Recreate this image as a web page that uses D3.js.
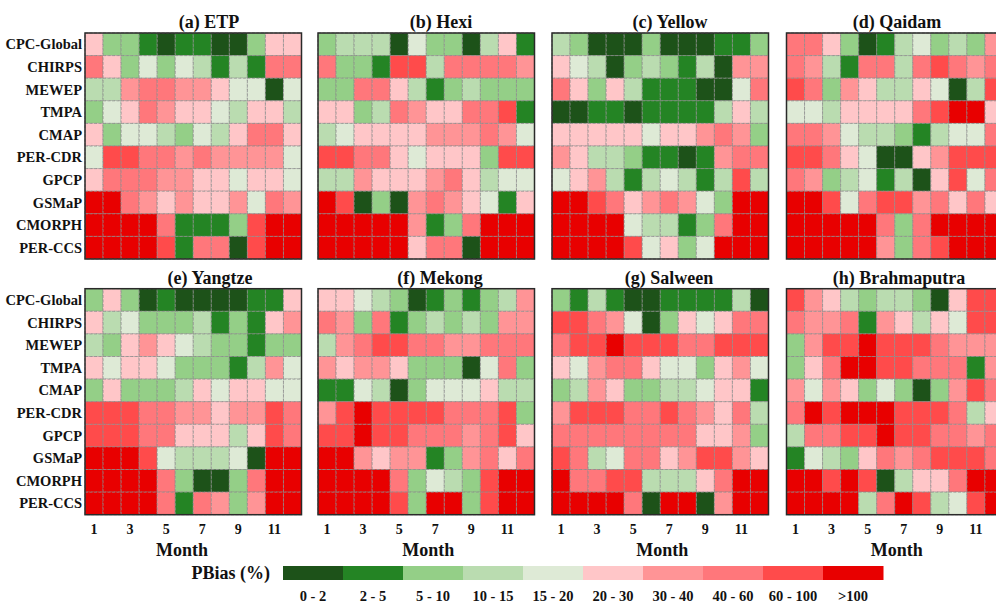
<!DOCTYPE html>
<html>
<head>
<meta charset="utf-8">
<script src="https://cdn.jsdelivr.net/npm/d3@7"></script>
<style>
  html, body { margin: 0; padding: 0; background: #fff; overflow: hidden; }
  svg { display: block; font-family: "Liberation Serif", "Times New Roman", serif; font-weight: bold; }
</style>
</head>
<body>
<svg id="chart" width="996" height="603"></svg>
<script>
// Precipitation products (rows) and months (columns)
const products = ["CPC-Global", "CHIRPS", "MEWEP", "TMPA", "CMAP", "PER-CDR", "GPCP", "GSMaP", "CMORPH", "PER-CCS"];
const months = [1, 2, 3, 4, 5, 6, 7, 8, 9, 10, 11, 12];
const monthTicks = [1, 3, 5, 7, 9, 11];

// PBias classes and their colours
const pbiasClasses = ["0 - 2", "2 - 5", "5 - 10", "10 - 15", "15 - 20", "20 - 30", "30 - 40", "40 - 60", "60 - 100", ">100"];
const classColors = ["#1d5219", "#248424", "#94cf87", "#badcb0", "#deead6", "#ffc6c8", "#ff9496", "#ff777b", "#ff4b4b", "#e80000"];

// PBias class index per product (row) and month (column) for each basin
const etp = [
  [5, 2, 2, 1, 0, 1, 1, 0, 0, 2, 5, 5],
  [7, 5, 2, 4, 2, 4, 3, 1, 3, 1, 7, 7],
  [3, 3, 6, 7, 7, 6, 6, 5, 4, 4, 0, 4],
  [2, 4, 5, 7, 6, 5, 5, 4, 3, 5, 5, 3],
  [5, 2, 4, 4, 3, 2, 4, 3, 5, 7, 7, 5],
  [4, 8, 8, 7, 7, 6, 7, 6, 6, 6, 6, 4],
  [5, 7, 7, 7, 6, 6, 5, 5, 4, 5, 5, 4],
  [9, 9, 7, 6, 5, 6, 5, 5, 6, 4, 7, 6],
  [9, 9, 9, 9, 7, 1, 1, 1, 2, 8, 9, 9],
  [9, 9, 9, 9, 8, 1, 7, 7, 0, 8, 9, 9]
];
const hexi = [
  [2, 3, 3, 3, 0, 4, 2, 2, 0, 3, 5, 1],
  [7, 2, 2, 1, 8, 8, 3, 7, 7, 7, 7, 6],
  [2, 2, 7, 7, 5, 3, 1, 2, 3, 2, 2, 2],
  [5, 5, 2, 3, 7, 6, 5, 5, 7, 7, 8, 1],
  [3, 4, 5, 5, 5, 5, 6, 6, 6, 7, 6, 4],
  [8, 8, 7, 7, 5, 4, 5, 5, 5, 2, 8, 8],
  [3, 3, 6, 5, 5, 5, 6, 7, 5, 3, 4, 4],
  [9, 8, 0, 2, 0, 6, 7, 6, 5, 4, 1, 5],
  [9, 9, 9, 9, 9, 6, 1, 2, 7, 9, 9, 9],
  [9, 9, 9, 9, 9, 5, 7, 7, 0, 9, 9, 9]
];
const yellow = [
  [3, 2, 0, 0, 0, 2, 0, 0, 0, 1, 1, 2],
  [5, 4, 3, 0, 2, 3, 2, 1, 3, 0, 6, 6],
  [7, 5, 2, 5, 3, 1, 1, 1, 0, 0, 4, 7],
  [0, 0, 1, 1, 0, 1, 1, 1, 1, 3, 5, 3],
  [5, 5, 5, 5, 5, 4, 5, 5, 6, 7, 6, 2],
  [6, 5, 3, 3, 2, 1, 1, 0, 1, 6, 7, 7],
  [4, 5, 6, 3, 1, 3, 4, 3, 1, 3, 8, 3],
  [9, 9, 8, 7, 5, 6, 7, 6, 4, 2, 9, 9],
  [9, 9, 9, 9, 4, 3, 3, 1, 2, 7, 9, 9],
  [9, 9, 9, 9, 8, 4, 5, 2, 4, 9, 9, 9]
];
const qaidam = [
  [7, 7, 5, 2, 0, 1, 3, 4, 2, 3, 2, 6],
  [7, 6, 3, 1, 7, 7, 3, 7, 8, 7, 6, 7],
  [8, 7, 2, 6, 5, 3, 3, 5, 4, 0, 3, 8],
  [4, 4, 3, 5, 5, 5, 5, 7, 8, 9, 9, 5],
  [7, 7, 6, 4, 3, 3, 2, 1, 3, 4, 4, 7],
  [8, 8, 7, 5, 4, 0, 0, 5, 6, 8, 8, 8],
  [7, 6, 2, 3, 4, 1, 3, 0, 5, 8, 4, 7],
  [9, 9, 8, 4, 7, 8, 8, 6, 7, 5, 7, 5],
  [9, 9, 9, 9, 9, 7, 2, 7, 9, 9, 9, 9],
  [9, 9, 9, 9, 9, 6, 2, 7, 8, 9, 9, 9]
];
const yangtze = [
  [2, 5, 2, 0, 1, 0, 0, 0, 0, 1, 1, 5],
  [5, 3, 4, 2, 2, 2, 3, 1, 2, 1, 5, 6],
  [3, 2, 5, 6, 5, 4, 3, 2, 2, 1, 2, 2],
  [5, 4, 5, 5, 4, 2, 2, 2, 1, 3, 6, 4],
  [2, 5, 2, 2, 2, 3, 5, 4, 5, 5, 4, 4],
  [8, 8, 8, 7, 7, 6, 6, 5, 6, 6, 8, 7],
  [8, 8, 8, 7, 7, 5, 5, 5, 3, 5, 8, 7],
  [9, 9, 9, 8, 4, 3, 3, 3, 4, 0, 9, 9],
  [9, 9, 9, 9, 7, 2, 0, 0, 2, 7, 9, 9],
  [9, 9, 9, 9, 7, 1, 7, 6, 2, 6, 9, 9]
];
const mekong = [
  [5, 5, 4, 3, 2, 0, 1, 2, 1, 2, 3, 6],
  [7, 6, 2, 7, 1, 2, 3, 2, 3, 2, 6, 6],
  [3, 6, 7, 8, 8, 7, 7, 6, 6, 7, 7, 7],
  [6, 5, 6, 6, 5, 2, 2, 2, 0, 4, 7, 2],
  [1, 1, 4, 3, 0, 2, 4, 4, 4, 5, 3, 3],
  [6, 8, 9, 8, 8, 8, 8, 7, 7, 7, 8, 2],
  [8, 8, 9, 8, 8, 7, 7, 7, 6, 7, 8, 5],
  [9, 9, 6, 5, 6, 6, 1, 2, 6, 7, 5, 7],
  [9, 9, 9, 9, 7, 2, 4, 3, 2, 8, 9, 9],
  [9, 9, 9, 9, 8, 2, 9, 9, 2, 8, 9, 9]
];
const salween = [
  [2, 1, 3, 1, 0, 0, 1, 1, 1, 1, 3, 0],
  [8, 8, 7, 6, 4, 0, 2, 5, 4, 5, 7, 7],
  [7, 8, 8, 9, 8, 8, 8, 7, 7, 8, 8, 8],
  [5, 4, 6, 7, 7, 5, 4, 4, 2, 5, 6, 4],
  [2, 3, 6, 5, 2, 2, 3, 3, 4, 5, 5, 1],
  [6, 8, 8, 8, 7, 7, 8, 7, 6, 5, 7, 3],
  [7, 7, 7, 7, 7, 7, 7, 7, 5, 5, 6, 2],
  [8, 7, 3, 4, 7, 7, 5, 6, 8, 8, 6, 5],
  [9, 7, 7, 8, 8, 3, 3, 3, 5, 7, 9, 9],
  [9, 9, 9, 9, 7, 0, 9, 9, 0, 6, 9, 9]
];
const brahmaputra = [
  [8, 6, 5, 3, 2, 3, 3, 2, 0, 5, 8, 8],
  [7, 6, 6, 7, 1, 6, 5, 3, 5, 4, 8, 8],
  [2, 6, 8, 8, 9, 8, 8, 8, 7, 6, 6, 6],
  [2, 5, 7, 9, 9, 8, 8, 7, 7, 7, 1, 6],
  [6, 4, 6, 5, 2, 4, 2, 0, 2, 6, 8, 7],
  [7, 9, 8, 9, 9, 9, 8, 8, 8, 7, 3, 5],
  [3, 7, 7, 8, 8, 9, 8, 8, 7, 7, 6, 7],
  [1, 4, 3, 2, 5, 7, 6, 7, 8, 8, 8, 7],
  [9, 9, 8, 9, 8, 0, 3, 5, 5, 7, 9, 9],
  [9, 9, 9, 9, 3, 7, 9, 8, 3, 4, 8, 9]
];

const panelTitles = ["(a) ETP", "(b) Hexi", "(c) Yellow", "(d) Qaidam", "(e) Yangtze", "(f) Mekong", "(g) Salween", "(h) Brahmaputra"];
const panelData = [etp, hexi, yellow, qaidam, yangtze, mekong, salween, brahmaputra];

// Layout
const panelW = 216.5, panelH = 226;
const colX = [85, 318, 552, 786.5];
const rowY = [33, 288.7];
const titleX = [209, 441, 670, 897, 210, 440, 669, 899];

const svg = d3.select("#chart");
const color = d3.scaleOrdinal().domain(d3.range(pbiasClasses.length)).range(classColors);

panelData.forEach((data, p) => {
  const col = p % 4, row = Math.floor(p / 4);
  const x0 = colX[col], y0 = rowY[row];
  const x = d3.scaleBand().domain(months).range([0, panelW]);
  const y = d3.scaleBand().domain(products).range([0, panelH]);

  const g = svg.append("g").attr("transform", `translate(${x0},${y0})`);

  const cells = [];
  data.forEach((r, i) => r.forEach((v, j) => cells.push({ product: products[i], month: months[j], cls: v })));

  g.selectAll("rect.cell").data(cells).join("rect")
    .attr("class", "cell")
    .attr("x", d => x(d.month))
    .attr("y", d => y(d.product))
    .attr("width", x.bandwidth())
    .attr("height", y.bandwidth())
    .attr("fill", d => color(d.cls))
    .attr("stroke", "#8a8a8a")
    .attr("stroke-width", 0.8)
    .attr("stroke-dasharray", "3,1.5");

  g.append("rect")
    .attr("width", panelW).attr("height", panelH)
    .attr("fill", "none").attr("stroke", "#2a2a2a").attr("stroke-width", 1.5);

  // Product labels on the left-hand column only
  if (col === 0) {
    g.selectAll("text.rowlab").data(products).join("text")
      .attr("class", "rowlab")
      .attr("x", -3)
      .attr("y", d => y(d) + y.bandwidth() / 2)
      .attr("dy", "0.35em")
      .attr("text-anchor", "end")
      .attr("font-size", 14.5)
      .attr("fill", "#111")
      .text(d => d);
  }

  // Panel title
  svg.append("text")
    .attr("x", titleX[p])
    .attr("y", y0 - 5)
    .attr("text-anchor", "middle")
    .attr("font-size", 18)
    .attr("fill", "#111")
    .text(panelTitles[p]);

  // Month axis on the lower row only
  if (row === 1) {
    const axis = d3.axisBottom(x).tickValues(monthTicks).tickSize(0).tickPadding(9);
    const ax = g.append("g").attr("transform", `translate(0,${panelH})`).call(axis);
    ax.select(".domain").remove();
    ax.selectAll("text")
      .attr("font-size", 14)
      .attr("font-family", "Liberation Serif, serif")
      .attr("font-weight", "bold")
      .attr("fill", "#111");
    const monthX = col === 0 ? 97 : panelW / 2 + 2;
    g.append("text")
      .attr("x", monthX)
      .attr("y", panelH + 41)
      .attr("text-anchor", "middle")
      .attr("font-size", 18)
      .attr("fill", "#111")
      .text("Month");
  }
});

// Legend
const legX = 283, legY = 566, segW = 60, segH = 14;
const lx = d3.scaleBand().domain(pbiasClasses).range([legX, legX + segW * pbiasClasses.length]);
const leg = svg.append("g");
leg.selectAll("rect").data(pbiasClasses).join("rect")
  .attr("x", d => lx(d))
  .attr("y", legY)
  .attr("width", lx.bandwidth() + 0.5)
  .attr("height", segH)
  .attr("fill", (d, i) => classColors[i]);
leg.selectAll("text.lab").data(pbiasClasses).join("text")
  .attr("class", "lab")
  .attr("x", d => lx(d) + lx.bandwidth() / 2)
  .attr("y", 601)
  .attr("text-anchor", "middle")
  .attr("font-size", 14.5)
  .attr("fill", "#111")
  .text(d => d);
leg.append("text")
  .attr("x", 270)
  .attr("y", legY + segH / 2)
  .attr("dy", "0.35em")
  .attr("text-anchor", "end")
  .attr("font-size", 18)
  .attr("fill", "#111")
  .text("PBias (%)");
</script>
</body>
</html>
